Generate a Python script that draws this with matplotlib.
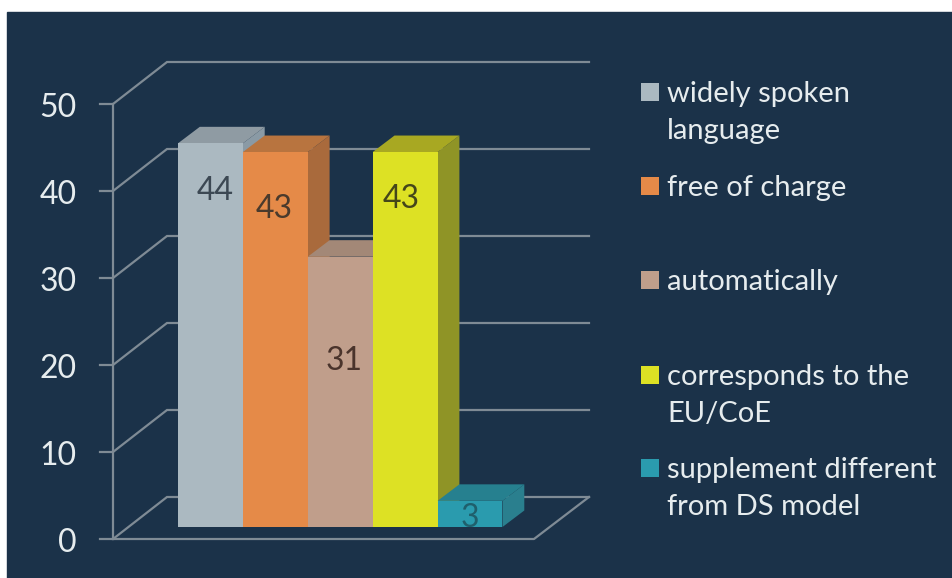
import matplotlib
matplotlib.use('Agg')
import matplotlib.pyplot as plt
from matplotlib.patches import Polygon, Rectangle

categories = ['widely spoken\nlanguage', 'free of charge', 'automatically',
              'corresponds to the\nEU/CoE', 'supplement different\nfrom DS model']
values = [44, 43, 31, 43, 3]
ticks = [0, 10, 20, 30, 40, 50]

front = ['#abb9c1', '#e58a48', '#c09e8b', '#dde124', '#2a9bae']
top = ['#8f9ba3', '#b8743f', '#a38877', '#a8a822', '#26808f']
side = ['#8a9aa5', '#a96a3c', '#a38877', '#8f9426', '#2a7f8e']
text_dark = ['#3c4853', '#4a3a2c', '#4a342c', '#44461a', '#1f5f6c']

bg = '#1b3249'
line = '#7f8b95'
light = '#e6ecee'

plt.rcParams['font.family'] = ['Lato', 'DejaVu Sans']

fig = plt.figure(figsize=(9.53, 5.78), dpi=100, facecolor='white')
ax = fig.add_axes([0, 0, 1, 1])

# x axis is in pixels, y axis is in chart units (0 at the bar foot)
unit = 8.72
base = 527
ax.set_xlim(0, 953)
ax.set_ylim((base - 578) / unit, base / unit)
ax.axis('off')


def py(p):
    return (base - p) / unit


ax.add_patch(Rectangle((7, py(578)), 946, py(12) - py(578), color=bg, zorder=0))

# wall, floor and axis
axis_x = 113
wall_dx = 54
wall_dy = 42 / unit
zero = py(539)
step = (py(104) - py(539)) / 50
for t in ticks:
    y = zero + t * step
    ax.plot([100, axis_x, axis_x + wall_dx, 589], [y, y, y + wall_dy, y + wall_dy],
            color=line, lw=1.6, zorder=1, solid_joinstyle='miter')
    ax.text(77, y - 0.45, str(t), ha='right', va='center', fontsize=23, color=light)
ax.plot([axis_x, axis_x], [zero, zero + 50 * step], color=line, lw=1.6, zorder=1)
ax.plot([axis_x, 534, 589], [zero, zero, zero + wall_dy], color=line, lw=1.6, zorder=1)

# bars, left to right so each one covers the side of the previous
bar_x = 178
bar_w = 64.9
dx = 21.8
dy = 16.5 / unit
for i, v in enumerate(values):
    x0 = bar_x + i * bar_w
    x1 = x0 + bar_w
    z = 2 + i
    ax.add_patch(Polygon([(x1, 0), (x1 + dx, dy), (x1 + dx, v + dy), (x1, v)],
                         color=side[i], lw=0, zorder=z))
    ax.add_patch(Polygon([(x0, v), (x0 + dx, v + dy), (x1 + dx, v + dy), (x1, v)],
                         color=top[i], lw=0, zorder=z))
    ax.bar(x0, v, width=bar_w, align='edge', color=front[i], lw=0, zorder=z)

label_x = [215, 274, 344, 401, 470]
label_y = [191, 209, 360.5, 199.5, 518]
for i, v in enumerate(values):
    ax.text(label_x[i], py(label_y[i]), str(v), ha='center', va='center',
            fontsize=23, color=text_dark[i], zorder=10)

# legend
legend_y = [94, 188, 282, 377, 470]
for i, name in enumerate(categories):
    ax.add_patch(Rectangle((641, py(legend_y[i] + 7)), 18, 18 / unit, color=front[i], lw=0, zorder=3))
    for j, part in enumerate(name.split('\n')):
        ax.text(667, py(legend_y[i] + j * 37), part, ha='left', va='center',
                fontsize=21, color=light)

plt.savefig('out.png', dpi=100, facecolor='white')
